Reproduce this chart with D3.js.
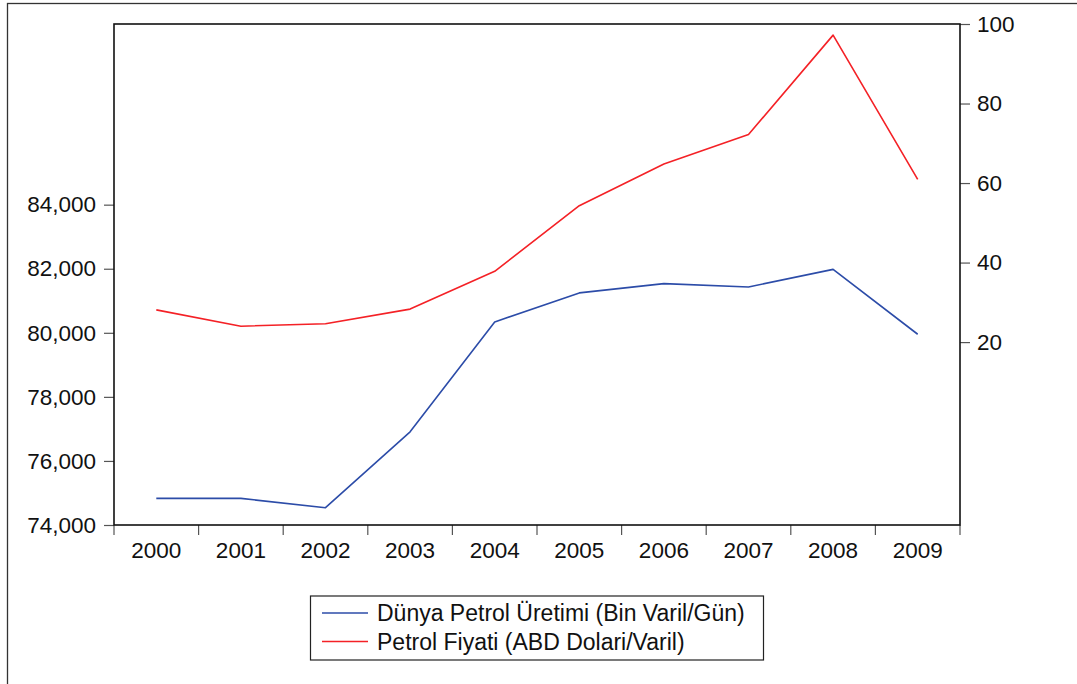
<!DOCTYPE html>
<html lang="tr">
<head>
  <meta charset="UTF-8" />
  <title>Dünya Petrol Üretimi ve Petrol Fiyati</title>
  <script src="https://d3js.org/d3.v7.min.js"></script>
  <style>
    html, body {
      margin: 0;
      padding: 0;
      background: #fff;
      font-family: "Liberation Sans", Arial, sans-serif;
    }
    svg { display: block; }
    .axis text { font-size: 22.5px; fill: #111; font-family: "Liberation Sans", Arial, sans-serif; }
    .axis .domain { display: none; }
    .axis line { stroke: #555; stroke-width: 1.2px; }
    .series { fill: none; stroke-width: 1.6px; stroke-linejoin: round; }
    .legend text { font-size: 23px; fill: #111; }
  </style>
</head>
<body>
<div id="chart"></div>
<script>
const years = ["2000", "2001", "2002", "2003", "2004", "2005", "2006", "2007", "2008", "2009"];
const production = [74830, 74830, 74540, 76910, 80340, 81245, 81535, 81430, 81980, 79955];
const price = [28.1, 24.0, 24.6, 28.3, 37.8, 54.3, 64.8, 72.2, 97.2, 60.9];
const leftTicks = [74000, 76000, 78000, 80000, 82000, 84000];
const rightTicks = [20, 40, 60, 80, 100];
const seriesNames = ["Dünya Petrol Üretimi (Bin Varil/Gün)", "Petrol Fiyati (ABD Dolari/Varil)"];
const seriesColors = ["#2c4ca8", "#f42126"];

const W = 1077, H = 684;
const plot = { left: 114, right: 960, top: 24, bottom: 525 };

const svg = d3.select("#chart").append("svg")
  .attr("width", W)
  .attr("height", H);

// outer frame (runs off the right and bottom edges)
svg.append("rect")
  .attr("x", 7.5).attr("y", 3.5)
  .attr("width", 1200).attr("height", 1000)
  .attr("fill", "none")
  .attr("stroke", "#333")
  .attr("stroke-width", 1.3);

const x = d3.scaleBand().domain(years).range([plot.left, plot.right]).padding(0);
const yLeft = d3.scaleLinear().domain([74000, 89640]).range([plot.bottom, plot.top]);
const yRight = d3.scaleLinear().domain([-26, 100]).range([plot.bottom, plot.top]);

// left axis
svg.append("g")
  .attr("class", "axis")
  .attr("transform", `translate(${plot.left},0)`)
  .call(d3.axisLeft(yLeft).tickValues(leftTicks).tickFormat(d3.format(",")).tickSize(10).tickPadding(8));

// right axis
svg.append("g")
  .attr("class", "axis")
  .attr("transform", `translate(${plot.right},0)`)
  .call(d3.axisRight(yRight).tickValues(rightTicks).tickSize(10).tickPadding(7));

// bottom axis: labels centred in bands, ticks on the band edges
const xAxis = svg.append("g")
  .attr("class", "axis")
  .attr("transform", `translate(0,${plot.bottom})`)
  .call(d3.axisBottom(x).tickSize(0).tickPadding(17));
xAxis.selectAll(".tick line").remove();
xAxis.selectAll(".edge")
  .data(years.concat(["end"]))
  .join("line")
  .attr("class", "edge")
  .attr("x1", d => d === "end" ? x.range()[1] : x(d))
  .attr("x2", d => d === "end" ? x.range()[1] : x(d))
  .attr("y1", 0)
  .attr("y2", 10);

// plot frame
svg.append("rect")
  .attr("x", plot.left).attr("y", plot.top)
  .attr("width", plot.right - plot.left)
  .attr("height", plot.bottom - plot.top)
  .attr("fill", "none")
  .attr("stroke", "#111")
  .attr("stroke-width", 1.6);

const cx = d => x(d) + x.bandwidth() / 2;

const lineLeft = d3.line().x((d, i) => cx(years[i])).y(d => yLeft(d));
const lineRight = d3.line().x((d, i) => cx(years[i])).y(d => yRight(d));

svg.append("path")
  .attr("class", "series")
  .attr("stroke", seriesColors[0])
  .attr("d", lineLeft(production));

svg.append("path")
  .attr("class", "series")
  .attr("stroke", seriesColors[1])
  .attr("d", lineRight(price));

// legend
const legend = svg.append("g").attr("class", "legend");
legend.append("rect")
  .attr("x", 310.5).attr("y", 596)
  .attr("width", 453).attr("height", 64)
  .attr("fill", "#fff")
  .attr("stroke", "#222")
  .attr("stroke-width", 1.2);

const rows = legend.selectAll(".row")
  .data(seriesNames)
  .join("g")
  .attr("class", "row")
  .attr("transform", (d, i) => `translate(0,${613 + i * 28.5})`);
rows.append("line")
  .attr("x1", 322).attr("x2", 368)
  .attr("y1", 0).attr("y2", 0)
  .attr("stroke", (d, i) => seriesColors[i])
  .attr("stroke-width", 1.6);
rows.append("text")
  .attr("x", 377)
  .attr("dy", "0.35em")
  .text(d => d);
</script>
</body>
</html>
